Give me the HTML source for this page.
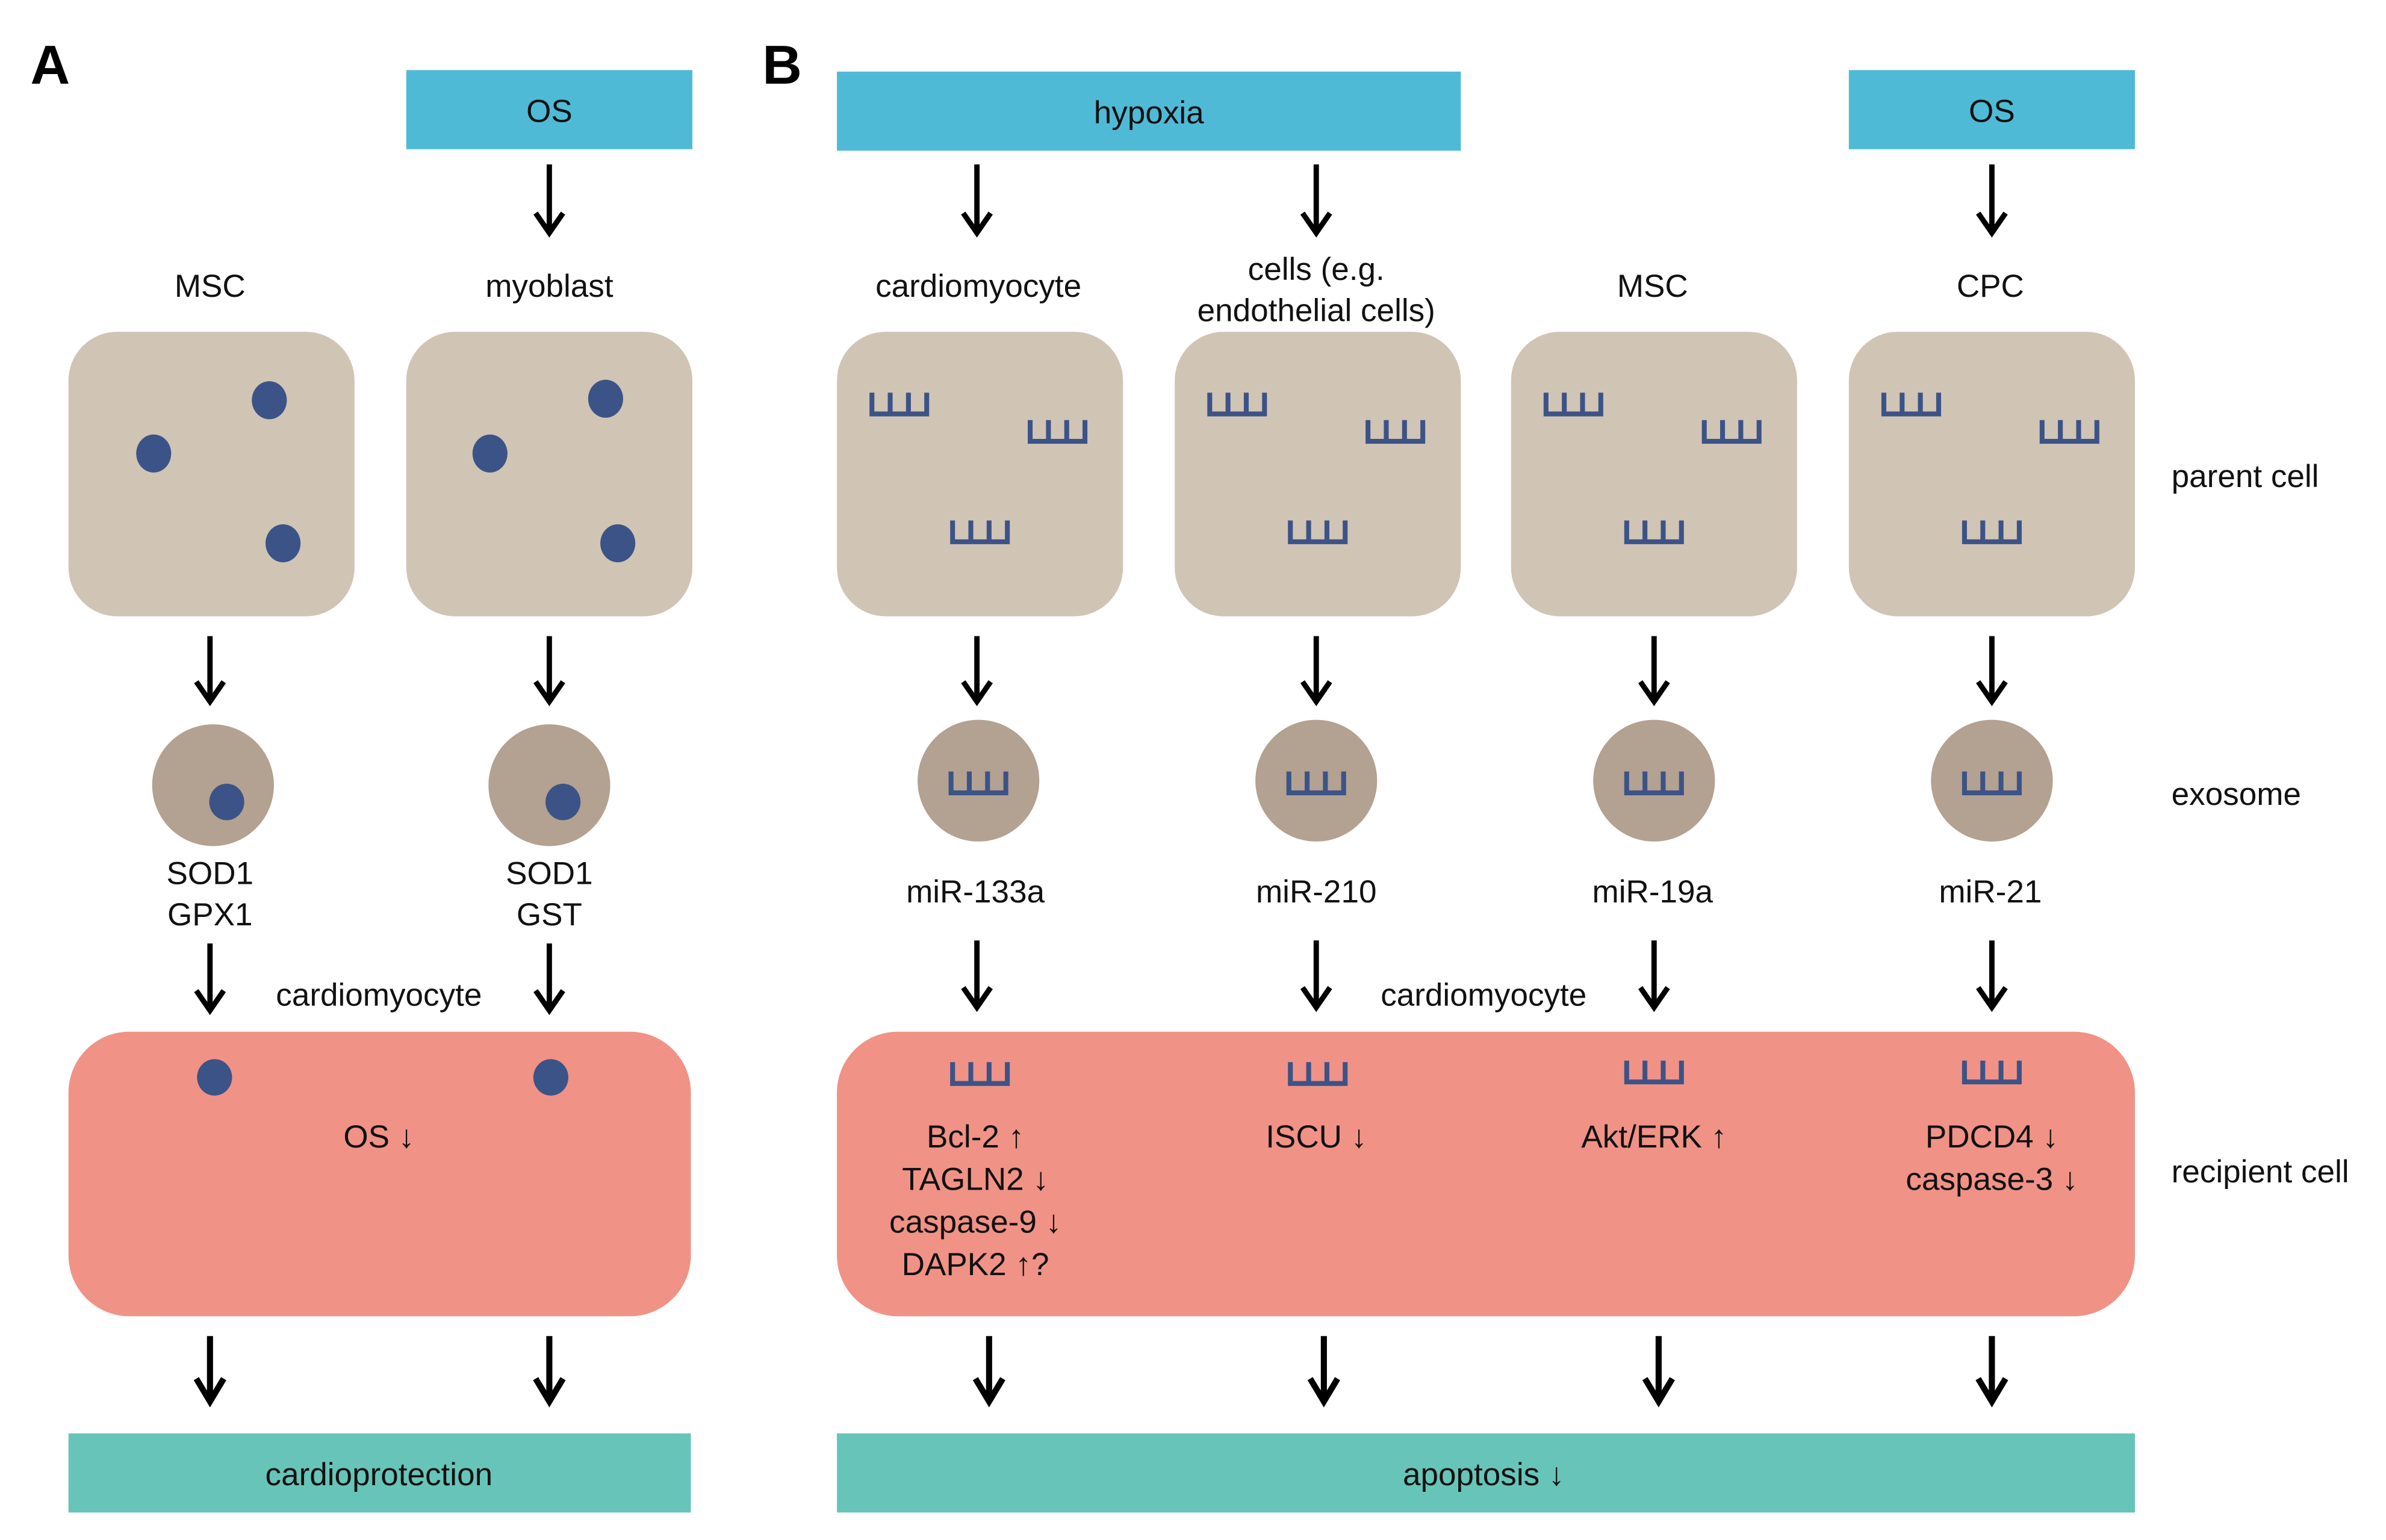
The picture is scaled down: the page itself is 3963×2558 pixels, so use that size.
<!DOCTYPE html>
<html><head><meta charset="utf-8"><style>
html,body{margin:0;padding:0;background:#fff;}
svg{display:block;}
text{font-family:"Liberation Sans",sans-serif;font-size:21px;fill:#111;text-anchor:middle;}
</style></head><body>
<svg width="3963" height="2558" viewBox="0 0 1568 1012" xmlns="http://www.w3.org/2000/svg">
<defs>
<g id="comb"><path d="M-18 -7 V7 H18 V-7 M-6 -7 V7 M6 -7 V7" fill="none" stroke="#3C5387" stroke-width="3.2"/></g>
<g id="cellB">
<rect x="0" y="0" width="188" height="187" rx="32" fill="#D0C4B5"/>
<use href="#comb" x="41" y="265" transform="translate(0,-265)"/>
</g>
</defs>

<text x="33" y="55" style="font-size:36px;font-weight:bold;fill:#000">A</text>
<text x="514" y="55" style="font-size:36px;font-weight:bold;fill:#000">B</text>

<!-- top boxes -->
<rect x="267" y="46" width="188" height="52" fill="#4FBAD6"/>
<text x="361" y="80">OS</text>
<rect x="550" y="47" width="410" height="52" fill="#4FBAD6"/>
<text x="755" y="81">hypoxia</text>
<rect x="1215" y="46" width="188" height="52" fill="#4FBAD6"/>
<text x="1309" y="80">OS</text>

<g fill="none" stroke="#000" stroke-width="3.5" stroke-linejoin="miter">
<!-- top arrows -->
<path d="M361 108 V153 M352 140 L361 153 L370 140"/>
<path d="M642 108 V153 M633 140 L642 153 L651 140"/>
<path d="M865 108 V153 M856 140 L865 153 L874 140"/>
<path d="M1309 108 V153 M1300 140 L1309 153 L1318 140"/>
<!-- cell->exosome -->
<path d="M138 418 V461 M129 448 L138 461 L147 448"/>
<path d="M361 418 V461 M352 448 L361 461 L370 448"/>
<path d="M642 418 V461 M633 448 L642 461 L651 448"/>
<path d="M865 418 V461 M856 448 L865 461 L874 448"/>
<path d="M1087 418 V461 M1078 448 L1087 461 L1096 448"/>
<path d="M1309 418 V461 M1300 448 L1309 461 L1318 448"/>
<!-- exosome->recipient -->
<path d="M138 620 V664 M129 651 L138 664 L147 651"/>
<path d="M361 620 V664 M352 651 L361 664 L370 651"/>
<path d="M642 618 V662 M633 649 L642 662 L651 649"/>
<path d="M865 618 V662 M856 649 L865 662 L874 649"/>
<path d="M1087 618 V662 M1078 649 L1087 662 L1096 649"/>
<path d="M1309 618 V662 M1300 649 L1309 662 L1318 649"/>
</g>
<g fill="none" stroke="#000" stroke-width="4" stroke-linejoin="miter">
<path d="M138 878 V921 M129 906 L138 921 L147 906"/>
<path d="M361 878 V921 M352 906 L361 921 L370 906"/>
<path d="M650 878 V921 M641 906 L650 921 L659 906"/>
<path d="M870 878 V921 M861 906 L870 921 L879 906"/>
<path d="M1090 878 V921 M1081 906 L1090 921 L1099 906"/>
<path d="M1309 878 V921 M1300 906 L1309 921 L1318 906"/>
</g>

<!-- labels -->
<text x="138" y="195">MSC</text>
<text x="361" y="195">myoblast</text>
<text x="643" y="195">cardiomyocyte</text>
<text x="865" y="184">cells (e.g.</text>
<text x="865" y="211">endothelial cells)</text>
<text x="1086" y="195">MSC</text>
<text x="1308" y="195">CPC</text>

<!-- parent cells A -->
<rect x="45" y="218" width="188" height="187" rx="32" fill="#D0C4B5"/>
<rect x="267" y="218" width="188" height="187" rx="32" fill="#D0C4B5"/>
<g fill="#3C5387">
<ellipse cx="177" cy="263" rx="11.5" ry="12.5"/>
<ellipse cx="101" cy="298" rx="11.5" ry="12.5"/>
<ellipse cx="186" cy="357" rx="11.5" ry="12.5"/>
<ellipse cx="398" cy="262" rx="11.5" ry="12.5"/>
<ellipse cx="322" cy="298" rx="11.5" ry="12.5"/>
<ellipse cx="406" cy="357" rx="11.5" ry="12.5"/>
</g>
<!-- parent cells B -->
<rect x="550" y="218" width="188" height="187" rx="32" fill="#D0C4B5"/>
<rect x="772" y="218" width="188" height="187" rx="32" fill="#D0C4B5"/>
<rect x="993" y="218" width="188" height="187" rx="32" fill="#D0C4B5"/>
<rect x="1215" y="218" width="188" height="187" rx="32" fill="#D0C4B5"/>
<use href="#comb" x="591" y="265"/><use href="#comb" x="695" y="283"/><use href="#comb" x="644" y="349"/>
<use href="#comb" x="813" y="265"/><use href="#comb" x="917" y="283"/><use href="#comb" x="866" y="349"/>
<use href="#comb" x="1034" y="265"/><use href="#comb" x="1138" y="283"/><use href="#comb" x="1087" y="349"/>
<use href="#comb" x="1256" y="265"/><use href="#comb" x="1360" y="283"/><use href="#comb" x="1309" y="349"/>
<text x="1427" y="320" style="text-anchor:start">parent cell</text>

<!-- exosomes -->
<g fill="#B3A191">
<circle cx="140" cy="516" r="40"/><circle cx="361" cy="516" r="40"/>
<circle cx="643" cy="513" r="40"/><circle cx="865" cy="513" r="40"/>
<circle cx="1087" cy="513" r="40"/><circle cx="1309" cy="513" r="40"/>
</g>
<ellipse cx="149" cy="527" rx="11.5" ry="12" fill="#3C5387"/>
<ellipse cx="370" cy="527" rx="11.5" ry="12" fill="#3C5387"/>
<use href="#comb" x="643" y="514"/><use href="#comb" x="865" y="514"/>
<use href="#comb" x="1087" y="514"/><use href="#comb" x="1309" y="514"/>
<text x="1427" y="529" style="text-anchor:start">exosome</text>

<text x="138" y="581">SOD1</text><text x="138" y="608">GPX1</text>
<text x="361" y="581">SOD1</text><text x="361" y="608">GST</text>
<text x="641" y="593">miR-133a</text>
<text x="865" y="593">miR-210</text>
<text x="1086" y="593">miR-19a</text>
<text x="1308" y="593">miR-21</text>
<text x="249" y="661">cardiomyocyte</text>
<text x="975" y="661">cardiomyocyte</text>

<!-- recipient -->
<rect x="45" y="678" width="409" height="187" rx="40" fill="#F09286"/>
<rect x="550" y="678" width="853" height="187" rx="40" fill="#F09286"/>
<ellipse cx="141" cy="708" rx="11.5" ry="12" fill="#3C5387"/>
<ellipse cx="362" cy="708" rx="11.5" ry="12" fill="#3C5387"/>
<use href="#comb" x="644" y="705"/><use href="#comb" x="866" y="705"/>
<use href="#comb" x="1087" y="704"/><use href="#comb" x="1309" y="704"/>
<text x="249" y="754">OS ↓</text>
<text x="641" y="754">Bcl-2 ↑</text>
<text x="641" y="782">TAGLN2 ↓</text>
<text x="641" y="810">caspase-9 ↓</text>
<text x="641" y="838">DAPK2 ↑?</text>
<text x="865" y="754">ISCU ↓</text>
<text x="1087" y="754">Akt/ERK ↑</text>
<text x="1309" y="754">PDCD4 ↓</text>
<text x="1309" y="782">caspase-3 ↓</text>
<text x="1427" y="777" style="text-anchor:start">recipient cell</text>

<!-- bottom -->
<rect x="45" y="942" width="409" height="52" fill="#66C5B8"/>
<text x="249" y="976">cardioprotection</text>
<rect x="550" y="942" width="853" height="52" fill="#66C5B8"/>
<text x="975" y="976">apoptosis ↓</text>
</svg>
</body></html>
